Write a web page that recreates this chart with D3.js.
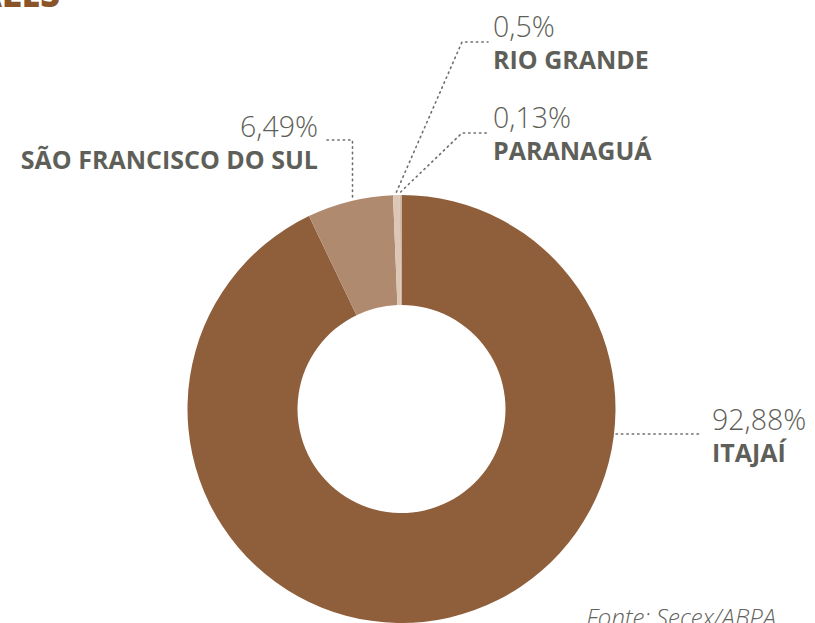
<!DOCTYPE html>
<html>
<head>
<meta charset="utf-8">
<script src="https://cdn.jsdelivr.net/npm/d3@7"></script>
<style>
  html, body { margin: 0; padding: 0; background: #fff; }
  #chart { width: 815px; height: 623px; overflow: hidden; }
  .pct { font-family: "Open Sans", sans-serif; font-weight: 300; fill: #5f5f5a; }
  .port { font-family: "Open Sans", sans-serif; font-weight: 700; fill: #5f5f5a; }
  .leader { fill: none; stroke: #6e6e69; stroke-width: 1.6; stroke-dasharray: 1.4 4; stroke-linecap: round; }
</style>
</head>
<body>
<div id="chart"></div>
<script>
// share of exports by port (%)
var ports = ["ITAJAÍ", "SÃO FRANCISCO DO SUL", "RIO GRANDE", "PARANAGUÁ"];
var shares = [92.88, 6.49, 0.5, 0.13];
var shareLabels = ["92,88%", "6,49%", "0,5%", "0,13%"];
var sliceColors = ["#8f5e3a", "#b08a6e", "#dcc6b5", "#d3b9a6"];
var source = "Fonte: Secex/ABPA";

var width = 815, height = 623;
var cx = 401.5, cy = 409;
var outerR = 214, innerR = 104;

var svg = d3.select("#chart").append("svg")
    .attr("width", width)
    .attr("height", height);

// title from the page above, only its foot shows
svg.append("text")
    .attr("x", 60)
    .attr("y", 7)
    .attr("text-anchor", "end")
    .attr("font-family", "Open Sans, sans-serif")
    .attr("font-weight", 800)
    .attr("font-size", 34)
    .attr("fill", "#8a5428")
    .text("ALES");

var data = ports.map(function(p, i){
    return {port: p, value: shares[i], label: shareLabels[i], color: sliceColors[i]};
});

var pie = d3.pie()
    .value(function(d){ return d.value; })
    .sort(null);

var arc = d3.arc()
    .innerRadius(innerR)
    .outerRadius(outerR);

var arcs = pie(data);

var g = svg.append("g")
    .attr("transform", "translate(" + cx + "," + cy + ")");

g.selectAll("path.slice")
    .data(arcs)
    .enter().append("path")
    .attr("class", "slice")
    .attr("d", arc)
    .attr("fill", function(d){ return d.data.color; });

// point on the outer edge at a given angle (d3 angles: 0 = 12 o'clock, clockwise)
function edge(a){
    return [cx + outerR * Math.sin(a), cy - outerR * Math.cos(a)];
}
function midAngle(d){ return (d.startAngle + d.endAngle) / 2; }

// label layout: where the text block sits and how the leader bends
var layout = {
    "ITAJAÍ": {x: 712, y: 430, anchor: "start"},
    "SÃO FRANCISCO DO SUL": {x: 318, y: 137, anchor: "end"},
    "RIO GRANDE": {x: 493, y: 37, anchor: "start"},
    "PARANAGUÁ": {x: 493, y: 128, anchor: "start"}
};

var line = d3.line();

arcs.forEach(function(d){
    var L = layout[d.data.port];
    var pts;
    if(d.data.port === "ITAJAÍ"){
        var yy = 434;
        var xx = cx + Math.sqrt(outerR * outerR - (yy - cy) * (yy - cy));
        pts = [[xx + 2, yy], [702, yy]];
    } else if(d.data.port === "SÃO FRANCISCO DO SUL"){
        var vx = 352.5;
        var vy = cy - Math.sqrt(outerR * outerR - (vx - cx) * (vx - cx));
        pts = [[327, 140], [vx, 140], [vx, vy - 2]];
    } else {
        var p0 = edge(midAngle(d));
        var ey = L.y + 5;
        pts = [[p0[0], p0[1] - 3], [462, ey], [488, ey]];
    }
    svg.append("path")
        .attr("class", "leader")
        .attr("d", line(pts));

    svg.append("text")
        .attr("class", "pct")
        .attr("x", L.x)
        .attr("y", L.y)
        .attr("text-anchor", L.anchor)
        .attr("font-size", 28.5)
        .text(d.data.label);

    svg.append("text")
        .attr("class", "port")
        .attr("x", L.x)
        .attr("y", L.y + 31.5)
        .attr("text-anchor", L.anchor)
        .attr("font-size", 25)
        .text(d.data.port);
});

svg.append("text")
    .attr("x", 776)
    .attr("y", 626)
    .attr("text-anchor", "end")
    .attr("font-family", "Open Sans, sans-serif")
    .attr("font-style", "italic")
    .attr("font-weight", 300)
    .attr("font-size", 24)
    .attr("fill", "#63635e")
    .text(source);
</script>
</body>
</html>
